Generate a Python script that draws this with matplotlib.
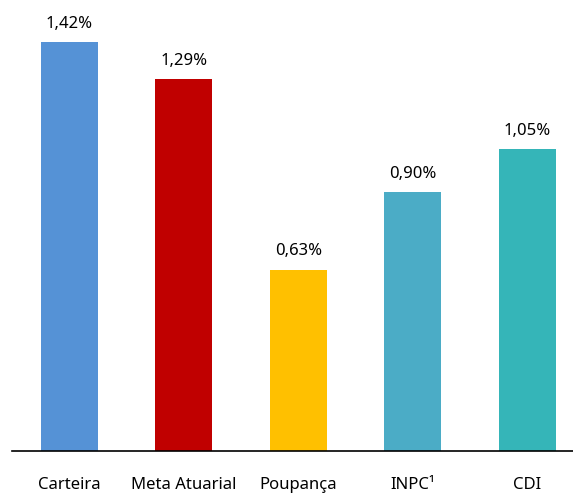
import matplotlib
matplotlib.use('Agg')
import matplotlib.pyplot as plt

categories = ['Carteira', 'Meta Atuarial', 'Poupança', 'INPC¹', 'CDI']
values = [1.42, 1.29, 0.63, 0.90, 1.05]
colors = ['#5592D6', '#C00000', '#FFC000', '#4BACC6', '#35B5B8']

plt.rcParams['font.family'] = ['Noto Sans', 'DejaVu Sans']

fig = plt.figure(figsize=(5.73, 4.94), dpi=100)
ax = fig.add_axes([12 / 573, 43 / 494, 561 / 573, 451 / 494])
x = list(range(len(categories)))
ax.bar(x, values, width=0.5, color=colors)
for xi, v in zip(x, values):
    ax.text(xi, v + 0.035, f'{v:.2f}'.replace('.', ',') + '%', ha='center',
            va='bottom', fontsize=12)

ax.set_xlim(-0.5, 4.4)
ax.set_ylim(0, 451 / 288)
ax.set_xticks(x)
ax.set_xticklabels(categories, fontsize=12)
ax.tick_params(axis='x', length=0, pad=19)
ax.set_yticks([])
for s in ['top', 'right', 'left']:
    ax.spines[s].set_visible(False)
ax.spines['bottom'].set_linewidth(1.2)

fig.savefig('out.png', dpi=100)
